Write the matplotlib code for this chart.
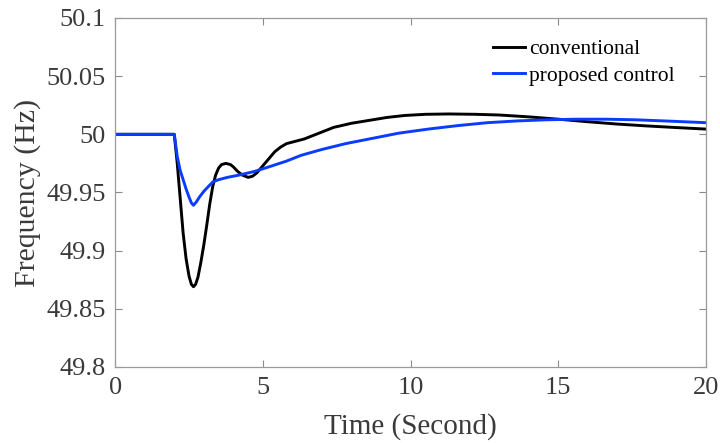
import numpy as np
import matplotlib.pyplot as plt

# values (time in s, frequency in Hz)
t_conv = [0, 2.0, 2.1, 2.2, 2.3, 2.4, 2.5, 2.58, 2.65, 2.72, 2.8, 2.9, 3.0, 3.1, 3.2, 3.3,
          3.4, 3.5, 3.6, 3.75, 3.9, 4.0, 4.15, 4.3, 4.5, 4.65, 4.8, 5.0, 5.2, 5.4, 5.6,
          5.8, 6.1, 6.4, 6.7, 7.0, 7.4, 8.0, 8.6, 9.2, 9.8, 10.5, 11.3, 12.2, 13.0,
          14.0, 15.0, 16.0, 17.0, 18.0, 19.0, 20.0]
f_conv = [50.0, 50.0, 49.975, 49.945, 49.915, 49.893, 49.878, 49.871, 49.869, 49.871,
          49.877, 49.89, 49.905, 49.922, 49.94, 49.955, 49.965, 49.971, 49.974, 49.975,
          49.974, 49.972, 49.968, 49.965, 49.963, 49.964, 49.967, 49.973, 49.979, 49.985,
          49.989, 49.992, 49.994, 49.996, 49.999, 50.002, 50.006, 50.0095, 50.012,
          50.0145, 50.0162, 50.0172, 50.0175, 50.0172, 50.0166, 50.015, 50.013,
          50.0108, 50.0088, 50.0072, 50.0058, 50.0045]

t_prop = [0, 2.0, 2.1, 2.2, 2.3, 2.4, 2.5, 2.58, 2.65, 2.75, 2.85, 3.0, 3.15, 3.3, 3.5,
          3.8, 4.2, 4.7, 5.2, 5.8, 6.3, 7.0, 7.8, 8.6, 9.6, 10.6, 11.6, 12.6, 13.6,
          14.6, 15.6, 16.6, 17.6, 18.6, 20.0]
f_prop = [50.0, 50.0, 49.981, 49.969, 49.961, 49.953, 49.946, 49.941, 49.939, 49.942,
          49.946, 49.951, 49.955, 49.959, 49.961, 49.963, 49.965, 49.968, 49.972,
          49.977, 49.982, 49.987, 49.992, 49.996, 50.001, 50.0045, 50.0075, 50.010,
          50.0115, 50.0125, 50.013, 50.013, 50.0125, 50.0115, 50.010]

x_ticks = [0, 5, 10, 15, 20]
y_ticks = [49.8, 49.85, 49.9, 49.95, 50, 50.05, 50.1]
y_labels = ['49.8', '49.85', '49.9', '49.95', '50', '50.05', '50.1']

plt.rcParams['font.family'] = ['Liberation Serif', 'DejaVu Serif']

fig = plt.figure(figsize=(7.2, 4.43), dpi=100)
ax = fig.add_axes([0.16, 0.1716, 0.8206, 0.7878])

ax.plot(t_conv, f_conv, color='black', lw=2.1, label='conventional')
ax.plot(t_prop, f_prop, color='#0a3cff', lw=2.1, label='proposed control')

ax.set_xlim(0, 20)
ax.set_ylim(49.8, 50.1)
ax.set_xticks(x_ticks)
ax.set_yticks(y_ticks)
ax.set_yticklabels(y_labels)

for s in ax.spines.values():
    s.set_color('#9a9a9a')
    s.set_linewidth(0.9)
ax.tick_params(direction='in', top=True, right=True, length=5, width=0.8,
               color='#8a8a8a', labelsize=19, labelcolor='#3a3a3a', pad=7)

ax.set_xlabel('Time (Second)', fontsize=21, color='#3a3a3a', labelpad=10)
ax.set_ylabel('Frequency (Hz)', fontsize=21.5, color='#3a3a3a', labelpad=4)

ax.legend(loc='upper right', bbox_to_anchor=(0.98, 0.995), frameon=False, fontsize=15.5,
          handlelength=1.5, handletextpad=0.2, labelspacing=0.3)

fig.savefig('out.png', dpi=100)
